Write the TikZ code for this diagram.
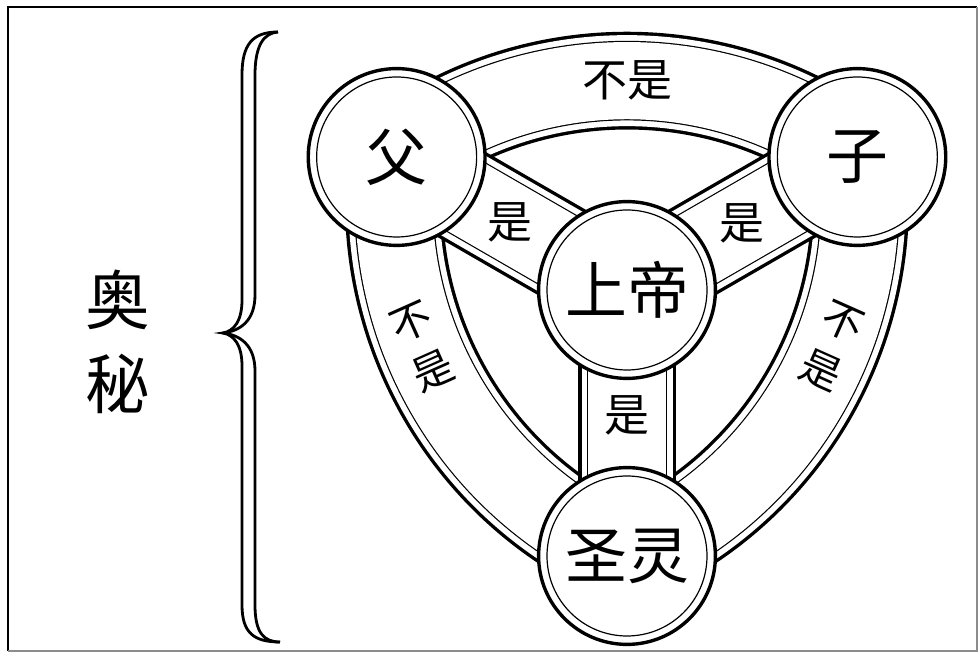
\documentclass[tikz,border=0pt]{standalone}
\usepackage{fontspec}
\newfontfamily\cjk{Noto Sans CJK SC}
\usepackage{tikz}
\usetikzlibrary{backgrounds}

\begin{document}
\begin{tikzpicture}[
	person/.style={circle, draw, line width=0.085cm, fill=white, minimum size=4.42cm, inner sep=0pt, font=\cjk\fontsize{44}{48}\selectfont, path picture={\draw[line width=0.03cm] (path picture bounding box.center) circle (2.0cm);}},
	band/.style={draw, line width=2.445cm, postaction={draw=white, line width=2.275cm}, postaction={draw=black, line width=1.99cm}, postaction={draw=white, line width=1.93cm}},
	bandText/.style={font=\cjk\fontsize{32}{33}\selectfont, inner sep=0pt, align=center}]
	\useasboundingbox (0,0) rectangle (24.5,16.425);

	% frame
	\draw[line width=1.6pt] (0.2,0.15) |- (24.425,16.25);
	\draw[line width=0.8pt, black!45] (0.2,0.15) -| (24.425,16.25);

	\node[font=\cjk\fontsize{46}{60}\selectfont, align=center](mystery) at (2.95,7.875){奥\\秘};

	% brace
	\draw[line width=0.07cm] (6.95,15.625) .. controls (6.3,15.625) and (6.05,15.3) .. (6.05,14.55) -- (6.05,8.925) .. controls (6.05,8.4) and (5.85,8.15) .. (5.575,8.1) .. controls (5.85,8.05) and (6.05,7.8) .. (6.05,7.275) -- (6.05,1.3) .. controls (6.05,0.6) and (6.35,0.375) .. (7.0,0.375);
	\draw[line width=0.07cm] (6.95,15.625) .. controls (6.6,15.6) and (6.375,15.3) .. (6.375,14.55) -- (6.375,9.05) .. controls (6.375,8.4) and (6.0,8.15) .. (5.575,8.1) .. controls (6.0,8.05) and (6.375,7.8) .. (6.375,7.15) -- (6.375,1.3) .. controls (6.375,0.6) and (6.6,0.375) .. (7.0,0.375);

	\node[person](father) at (9.916,12.5){父};
	\node[person](son) at (21.434,12.5){子};
	\node[person](god) at (15.675,9.175){上帝};
	\node[person](spirit) at (15.675,2.525){圣灵};

	\begin{scope}[on background layer]
		\draw[band] (father.center) to[bend left=36.8, looseness=0.946] node[bandText, pos=0.5](notFS){不是} (son.center);
		\draw[band] (father.center) to[bend right=36.8, looseness=0.946] node[bandText, pos=0.39, rotate=24, font=\cjk\fontsize{29}{38}\selectfont](notFH){不\\是} (spirit.center);
		\draw[band] (spirit.center) to[bend right=36.8, looseness=0.946] node[bandText, pos=0.61, rotate=-24, font=\cjk\fontsize{29}{38}\selectfont](notSH){不\\是} (son.center);

		\draw[band] (god.center) -- node[bandText, pos=0.51](isF){是} (father.center);
		\draw[band] (god.center) -- node[bandText, pos=0.5](isS){是} (son.center);
		\draw[band] (god.center) -- node[bandText, pos=0.47](isH){是} (spirit.center);
	\end{scope}
\end{tikzpicture}
\end{document}
